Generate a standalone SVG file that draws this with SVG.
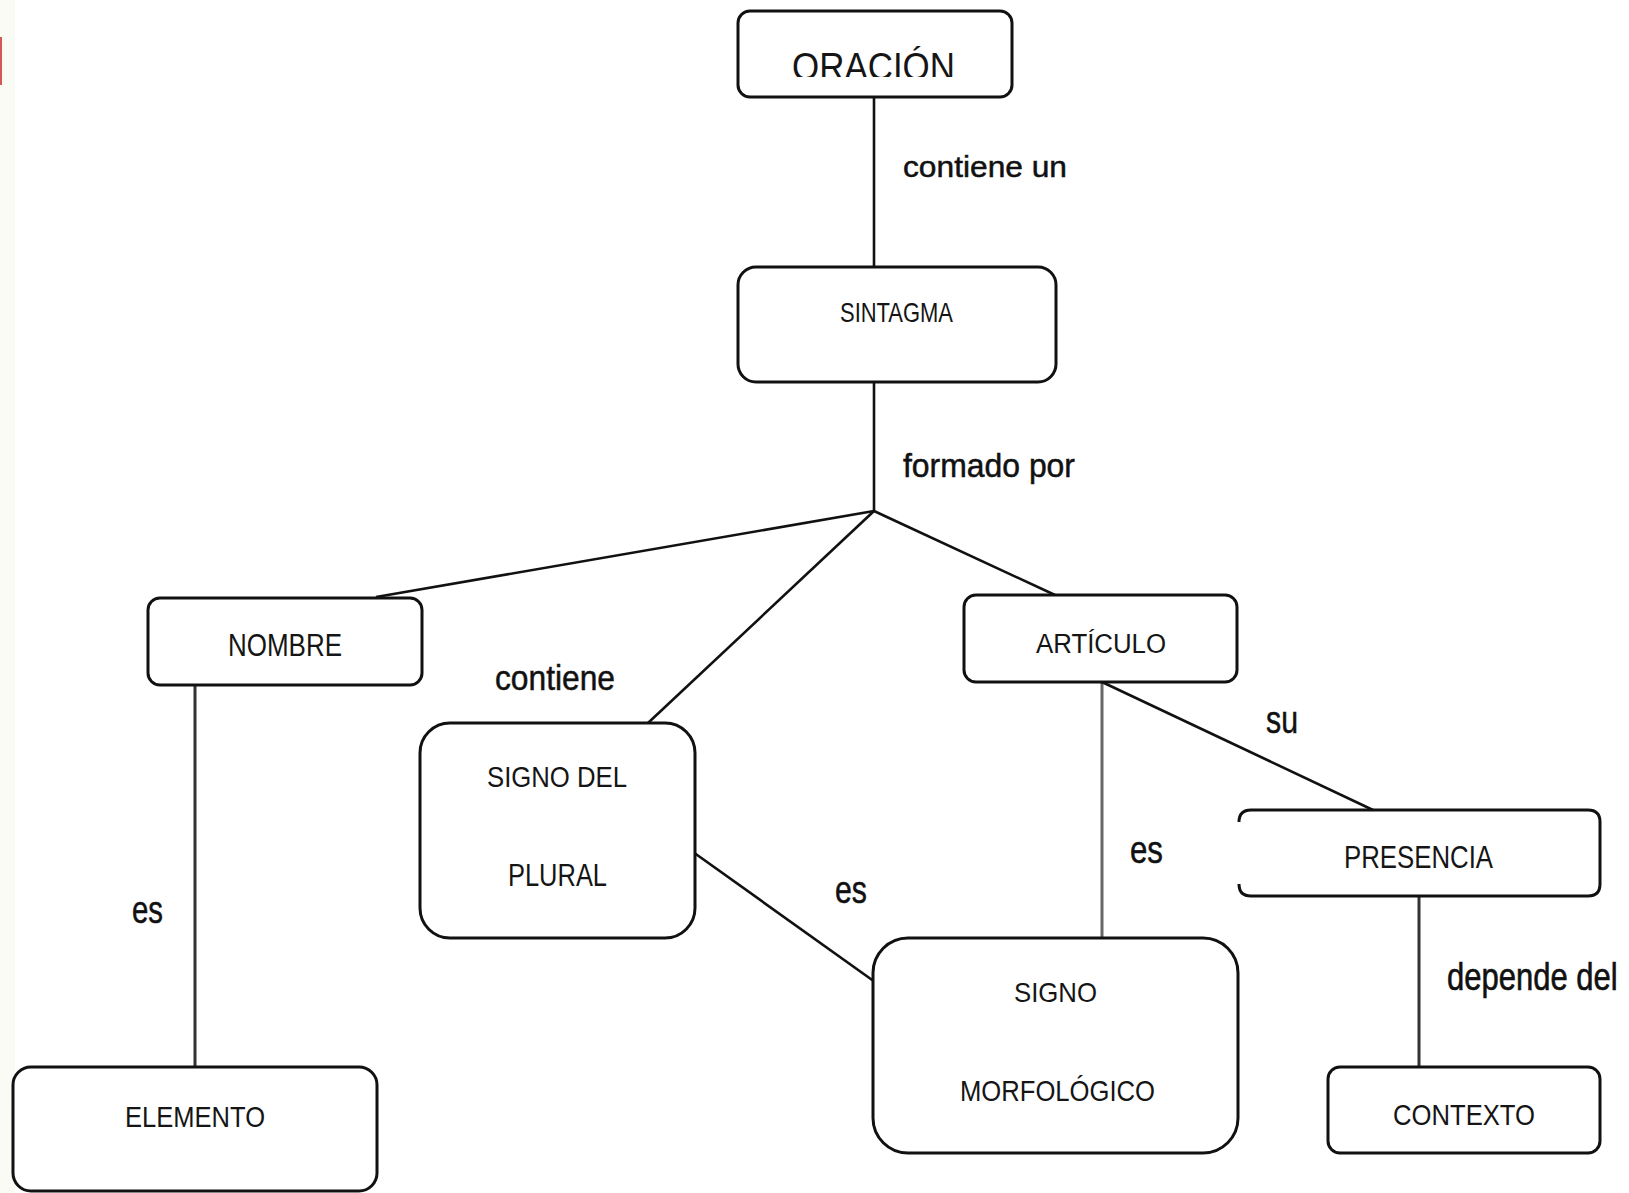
<svg xmlns="http://www.w3.org/2000/svg" width="1629" height="1193" viewBox="0 0 1629 1193">
<defs>
<style>
.box{fill:#fff;stroke:#111;stroke-width:3}
.open{fill:none;stroke:#111;stroke-width:3}
.ln{stroke:#111;stroke-width:2.6;fill:none}
.lg{stroke:#333;stroke-width:3;fill:none}
.lgl{stroke:#666;stroke-width:3;fill:none}
.nt{font-family:"Liberation Sans",Arial,sans-serif;fill:#151515}
.lb{font-family:"Liberation Sans",Arial,sans-serif;fill:#111;stroke:#111;stroke-width:0.5}
</style>
<clipPath id="clipOra"><rect x="738" y="11" width="274" height="66"/></clipPath>
</defs>
<rect x="0" y="0" width="1629" height="1193" fill="#fff"/>
<rect x="0" y="0" width="15" height="1193" fill="#fbfbf6"/>
<rect x="0" y="37" width="2" height="48" fill="#d45a55"/>

<g id="connectors">
<line class="ln" x1="874" y1="97" x2="874" y2="267"/>
<line class="ln" x1="874" y1="382" x2="874" y2="511"/>
<line class="ln" x1="874" y1="511" x2="376" y2="597"/>
<line class="ln" x1="874" y1="511" x2="648" y2="723"/>
<line class="ln" x1="874" y1="511" x2="1055" y2="595"/>
<line class="lg" x1="195" y1="685" x2="195" y2="1067"/>
<line class="lgl" x1="1102" y1="682" x2="1102" y2="938"/>
<line class="ln" x1="1102" y1="682" x2="1373" y2="810"/>
<line class="ln" x1="693" y1="852" x2="875" y2="982"/>
<line class="lg" x1="1419" y1="896" x2="1419" y2="1067"/>
</g>

<g id="labels">
<text class="lb" x="903" y="177" font-size="30" textLength="164" lengthAdjust="spacingAndGlyphs">contiene un</text>
<text class="lb" x="903" y="477" font-size="34" textLength="172" lengthAdjust="spacingAndGlyphs">formado por</text>
<text class="lb" x="495" y="690" font-size="35" textLength="120" lengthAdjust="spacingAndGlyphs">contiene</text>
<text class="lb" x="132" y="923" font-size="38" textLength="31" lengthAdjust="spacingAndGlyphs">es</text>
<text class="lb" x="835" y="903" font-size="38" textLength="32" lengthAdjust="spacingAndGlyphs">es</text>
<text class="lb" x="1130" y="863" font-size="38" textLength="33" lengthAdjust="spacingAndGlyphs">es</text>
<text class="lb" x="1266" y="733" font-size="38" textLength="32" lengthAdjust="spacingAndGlyphs">su</text>
<text class="lb" transform="translate(1447,990) scale(1,1.28)" x="0" y="0" font-size="31">depende del</text>
</g>

<g id="oracion">
<rect class="box" x="738" y="11" width="274" height="86" rx="12"/>
<text class="nt" x="792" y="80" font-size="39" textLength="163" lengthAdjust="spacingAndGlyphs" clip-path="url(#clipOra)">ORACIÓN</text>
</g>
<g id="sintagma">
<rect class="box" x="738" y="267" width="318" height="115" rx="18"/>
<text class="nt" x="840" y="322" font-size="28" textLength="113" lengthAdjust="spacingAndGlyphs">SINTAGMA</text>
</g>
<g id="nombre">
<rect class="box" x="148" y="598" width="274" height="87" rx="12"/>
<text class="nt" x="228" y="656" font-size="31" textLength="114" lengthAdjust="spacingAndGlyphs">NOMBRE</text>
</g>
<g id="articulo">
<rect class="box" x="964" y="595" width="273" height="87" rx="12"/>
<text class="nt" x="1036" y="653" font-size="27" textLength="130" lengthAdjust="spacingAndGlyphs">ARTÍCULO</text>
</g>
<g id="signo-plural">
<rect class="box" x="420" y="723" width="275" height="215" rx="30"/>
<text class="nt" x="487" y="787" font-size="30" textLength="140" lengthAdjust="spacingAndGlyphs">SIGNO DEL</text>
<text class="nt" x="508" y="886" font-size="31" textLength="99" lengthAdjust="spacingAndGlyphs">PLURAL</text>
</g>
<g id="signo-morfologico">
<rect class="box" x="873" y="938" width="365" height="215" rx="35"/>
<text class="nt" x="1014" y="1002" font-size="28" textLength="83" lengthAdjust="spacingAndGlyphs">SIGNO</text>
<text class="nt" x="960" y="1101" font-size="29" textLength="195" lengthAdjust="spacingAndGlyphs">MORFOLÓGICO</text>
</g>
<g id="presencia">
<path class="box" d="M1239,822 Q1239,810 1251,810 H1588 Q1600,810 1600,822 V884 Q1600,896 1588,896 H1251 Q1239,896 1239,884 Z" style="stroke:none"/>
<path class="open" d="M1239,822 Q1239,810 1251,810 H1588 Q1600,810 1600,822 V884 Q1600,896 1588,896 H1251 Q1239,896 1239,884"/>
<text class="nt" x="1344" y="868" font-size="31" textLength="149" lengthAdjust="spacingAndGlyphs">PRESENCIA</text>
</g>
<g id="contexto">
<rect class="box" x="1328" y="1067" width="272" height="86" rx="12"/>
<text class="nt" x="1393" y="1125" font-size="30" textLength="142" lengthAdjust="spacingAndGlyphs">CONTEXTO</text>
</g>
<g id="elemento">
<rect class="box" x="13" y="1067" width="364" height="124" rx="18"/>
<text class="nt" x="125" y="1127" font-size="30" textLength="140" lengthAdjust="spacingAndGlyphs">ELEMENTO</text>
</g>
</svg>
